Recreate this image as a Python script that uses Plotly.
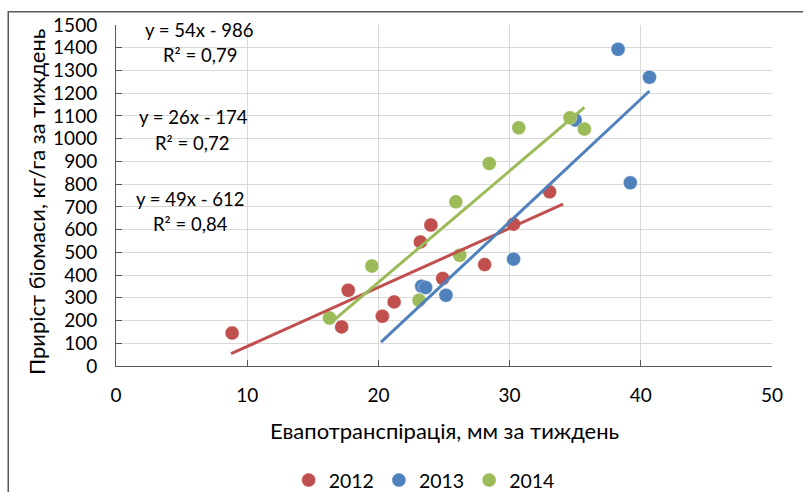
import plotly.graph_objects as go
import numpy as np

# ---- data ----
years = ["2012", "2013", "2014"]
colors = ["#C0504D", "#4F81BD", "#9BBB59"]

x_2012 = [8.85, 17.2, 17.7, 20.3, 21.2, 23.2, 24.0, 24.9, 28.1, 30.3, 33.05]
y_2012 = [145, 172, 333, 219, 282, 546, 620, 385, 446, 624, 766]

x_2013 = [23.3, 23.6, 25.15, 30.3, 35.0, 38.27, 39.2, 40.66]
y_2013 = [351, 345, 311, 470, 1082, 1393, 806, 1270]

x_2014 = [16.27, 19.5, 23.1, 25.9, 26.2, 28.45, 30.7, 34.6, 35.7]
y_2014 = [211, 440, 289, 722, 487, 891, 1048, 1092, 1042]

# trendline coefficients (slope, intercept) and their x extent
trend_slope = [26, 54, 49]
trend_intercept = [-174, -986, -612]
trend_x_start = [8.77, 20.2, 16.27]
trend_x_end = [34.07, 40.66, 35.7]

eq_labels = ["y = 54x - 986", "R² = 0,79", "y = 26x - 174", "R² = 0,72",
             "y = 49x - 612", "R² = 0,84"]

x_ticks = [0, 10, 20, 30, 40, 50]
y_ticks = list(range(0, 1501, 100))

xs = [x_2012, x_2013, x_2014]
ys = [y_2012, y_2013, y_2014]

FONT = "Lato"
fig = go.Figure()

for i in range(3):
    fig.add_trace(go.Scatter(
        x=xs[i], y=ys[i], mode="markers", name=years[i],
        marker=dict(color=colors[i], size=14, line=dict(width=0.6, color="rgba(255,255,255,0.6)")),
    ))

for i in range(3):
    tx = [trend_x_start[i], trend_x_end[i]]
    ty = [trend_slope[i] * v + trend_intercept[i] for v in tx]
    fig.add_trace(go.Scatter(
        x=tx, y=ty, mode="lines", showlegend=False, hoverinfo="skip",
        line=dict(color=colors[i], width=3),
    ))

# plot area geometry (px)
L, R, T, B = 116, 803 - 771.7, 25, 492 - 365.7
W = 803 - L - R
H = 492 - T - B

def px_to_paper(px, py):
    return (px - L) / W, (492 - B - py) / H

# equation labels positions
eq_pos = [(199, 30), (199.5, 55), (193, 117), (192, 143), (190.5, 199), (190, 224)]
annotations = []
for txt, (px, py) in zip(eq_labels, eq_pos):
    ax, ay = px_to_paper(px, py)
    annotations.append(dict(text=txt, x=ax, y=ay, xref="paper", yref="paper",
                            showarrow=False, xanchor="center", yanchor="middle",
                            font=dict(family=FONT, size=18.5, color="#000000")))

# axis titles
tx, ty = px_to_paper(444, 430)
annotations.append(dict(text="Евапотранспірація, мм за тиждень", x=tx, y=ty,
                        xref="paper", yref="paper", showarrow=False,
                        xanchor="center", yanchor="middle",
                        font=dict(family=FONT, size=22, color="#000000")))
tx, ty = px_to_paper(36, 202)
annotations.append(dict(text="Приріст біомаси, кг/га за тиждень", x=tx, y=ty,
                        xref="paper", yref="paper", showarrow=False, textangle=-90,
                        xanchor="center", yanchor="middle",
                        font=dict(family=FONT, size=22, color="#000000")))

# outer chart border (left & top edges visible)
bx0, by0 = px_to_paper(8.3, 11.7)
bx1, _ = px_to_paper(820, 0)
_, by1 = px_to_paper(0, 520)
shapes = [dict(type="path", xref="paper", yref="paper",
               path=f"M {bx0} {by1} L {bx0} {by0} L {bx1} {by0}",
               line=dict(color="#595959", width=1.5))]

lx, ly = px_to_paper(424, 480)

fig.update_layout(
    width=803, height=492,
    margin=dict(l=L, r=R, t=T, b=B, pad=0, autoexpand=False),
    paper_bgcolor="white", plot_bgcolor="white",
    font=dict(family=FONT, size=19, color="#000000"),
    showlegend=True,
    legend=dict(orientation="h", x=lx, y=ly, xanchor="center", yanchor="middle",
                xref="paper", yref="paper", itemwidth=30, tracegroupgap=0,
                font=dict(family=FONT, size=19.5, color="#000000")),
    annotations=annotations,
    shapes=shapes,
    xaxis=dict(range=[0, 50], tickvals=x_ticks, showgrid=True, gridcolor="#D9D9D9",
               gridwidth=1, zeroline=False, showline=True, linecolor="#595959",
               linewidth=1, ticks="inside", ticklen=6, tickcolor="#595959",
               ticklabelstandoff=12, tickfont=dict(family=FONT, size=19),
               fixedrange=True),
    yaxis=dict(range=[0, 1500], tickvals=y_ticks, showgrid=True, gridcolor="#D9D9D9",
               gridwidth=1, zeroline=False, showline=True, linecolor="#595959",
               linewidth=1, ticks="inside", ticklen=6, tickcolor="#595959",
               ticklabelstandoff=14, tickfont=dict(family=FONT, size=19),
               fixedrange=True),
)

fig.write_html("out.html")
